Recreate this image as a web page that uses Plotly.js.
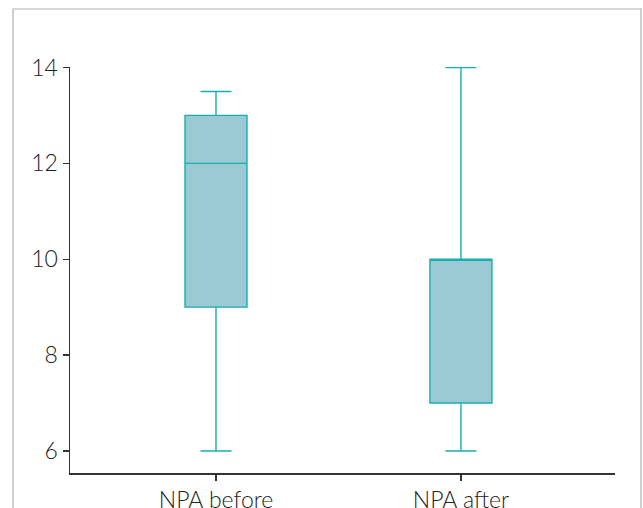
<!DOCTYPE html>
<html>
<head>
<meta charset="utf-8">
<script src="https://cdn.plot.ly/plotly-3.0.1.min.js"></script>
<style>html,body{margin:0;padding:0;background:#fff;}#chart{width:643px;height:508px;}</style>
</head>
<body>
<div id="chart"></div>
<script>
var categories = ["NPA before", "NPA after"];
var lowerFence = [6, 6];
var q1 = [9, 7];
var median = [12, 10];
var q3 = [13, 10];
var upperFence = [13.5, 14];
var yTicks = [6, 8, 10, 12, 14];

var trace = {
  type: "box",
  x: categories,
  q1: q1,
  median: median,
  q3: q3,
  lowerfence: lowerFence,
  upperfence: upperFence,
  fillcolor: "#9bc9d4",
  line: {color: "#17aeb1", width: 1.4},
  whiskerwidth: 0.5,
  boxpoints: false,
  hoverinfo: "none"
};

var layout = {
  width: 643, height: 508,
  margin: {l: 70, r: 28, t: 67, b: 35},
  paper_bgcolor: "#fff", plot_bgcolor: "#fff",
  showlegend: false,
  boxgap: 0.747,
  boxgroupgap: 0,
  font: {family: "Lato, 'Open Sans', sans-serif", color: "#222", size: 23, weight: 300},
  xaxis: {
    type: "category",
    range: [-0.596, 1.629],
    showline: true, linecolor: "#333", linewidth: 1.5,
    ticks: "outside", ticklen: 6, tickcolor: "#333", tickwidth: 1.2,
    showgrid: false, zeroline: false,
    tickfont: {size: 23, color: "#222", weight: 300}
  },
  yaxis: {
    range: [5.54, 14.01],
    tickvals: yTicks,
    ticktext: yTicks.map(String),
    showline: true, linecolor: "#333", linewidth: 1.5,
    ticks: "outside", ticklen: 6, tickcolor: "#333", tickwidth: 1.2,
    showgrid: false, zeroline: false,
    tickfont: {size: 23, color: "#222", weight: 300}
  },
  shapes: [{
    type: "rect", xref: "paper", yref: "paper",
    x0: -0.1046, x1: 1.0477, y0: -0.2, y1: 1.1429,
    line: {color: "#b0b0b0", width: 1.2}, fillcolor: "rgba(0,0,0,0)", layer: "below"
  }]
};

Plotly.newPlot("chart", [trace], layout, {staticPlot: true});
</script>
</body>
</html>
